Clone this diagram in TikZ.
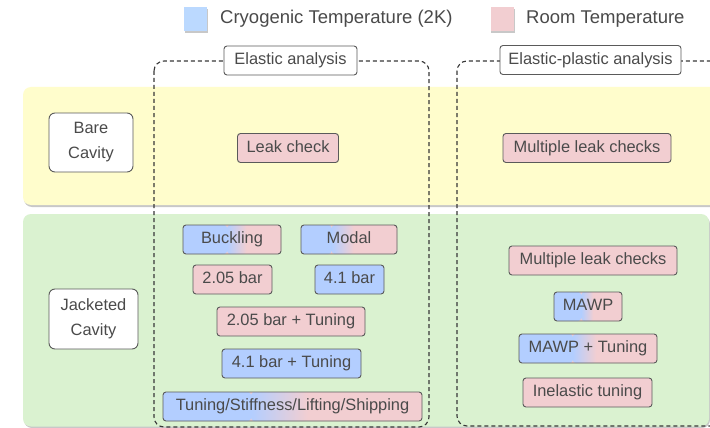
\documentclass[tikz,border=0pt]{standalone}
\usepackage{fontspec}
\setmainfont{Liberation Sans}
\usetikzlibrary{calc}
\definecolor{cryo}{HTML}{B3CEFF}
\definecolor{cryolg}{HTML}{BBD9FF}
\definecolor{room}{HTML}{F2CED1}
\definecolor{bandy}{HTML}{FFFDCC}
\definecolor{bandg}{HTML}{DAF2D0}
\definecolor{bordc}{HTML}{5A5A5A}
\definecolor{txt}{HTML}{4A4A4A}
\definecolor{dashc}{HTML}{383838}
\definecolor{shadc}{HTML}{C8C8C8}
\newcommand{\boxfont}{\fontsize{16.4}{25}\selectfont}
\newcommand{\legfont}{\fontsize{18.5}{22}\selectfont}
\tikzset{
  basebox/.style={draw=bordc, line width=0.9pt, rounded corners=3pt,
    inner sep=0pt, text=txt, font=\boxfont},
  box/.style={basebox, minimum height=29pt, text height=11.8pt, text depth=3.4pt},
  cryobox/.style={box, fill=cryo},
  roombox/.style={box, fill=room},
  gradbox/.style n args={2}{box, fill=room, path picture={
    \fill[cryo] (path picture bounding box.south west) rectangle
      ($(path picture bounding box.north west)!#1!(path picture bounding box.north east)$);
    \shade[left color=cryo, right color=room]
      ($(path picture bounding box.south west)!#1!(path picture bounding box.south east)$) rectangle
      ($(path picture bounding box.north west)!#2!(path picture bounding box.north east)$);
    \fill[room]
      ($(path picture bounding box.south west)!#2!(path picture bounding box.south east)$) rectangle
      (path picture bounding box.north east);
  }},
  labbox/.style={box, fill=white},
  catbox/.style={basebox, fill=white, rounded corners=6pt, align=center},
  dashbox/.style={draw=dashc, line width=1.1pt, dash pattern=on 4pt off 3pt, rounded corners=10pt},
  legsq/.style={inner sep=0pt, minimum width=23pt, minimum height=24pt},
  legtxt/.style={inner sep=0pt, anchor=west, text=txt, font=\legfont},
}
\begin{document}
\begin{tikzpicture}[x=1pt,y=-1pt]
\useasboundingbox (0,0) rectangle (710,428);
\clip (0,0) rectangle (710,428);
\fill[white] (0,0) rectangle (710,428);

% bands
\fill[shadc, rounded corners=8pt] (24,89) rectangle (722,207);
\fill[bandy, rounded corners=8pt] (23,87) rectangle (722,205);
\fill[shadc, rounded corners=8pt] (24,216) rectangle (710,428);
\fill[bandg, rounded corners=8pt] (23,214) rectangle (709,426.5);

% legend
\fill[shadc] (185,9) rectangle (208,33);
\node[legsq, fill=cryolg] (lgc) at (195.5,19) {};
\node[legtxt] (lgct) at (220,19) {Cryogenic Temperature (2K)};
\fill[shadc] (491,9) rectangle (515,33);
\node[legsq, fill=room] (lgr) at (502,19) {};
\node[legtxt] (lgrt) at (526,19) {Room Temperature};

% dashed analysis frames
\draw[dashbox] (154,61) rectangle (429,427);
\draw[dashbox] (457,61) rectangle (724,426);
\node[labbox, minimum width=133pt] (ela) at (290.5,60.5) {Elastic analysis};
\node[labbox, minimum width=181pt] (elp) at (590.5,60) {Elastic-plastic analysis};

% categories
\node[catbox, minimum width=84pt, minimum height=59pt] (bare) at (91,142.5) {Bare\\Cavity};
\node[catbox, minimum width=89pt, minimum height=60pt] (jack) at (93.5,319) {Jacketed\\Cavity};

% bare cavity row
\node[roombox, minimum width=101pt] (leak) at (288,148) {Leak check};
\node[roombox, minimum width=168pt] (mlca) at (587,148) {Multiple leak checks};

% jacketed cavity, elastic
\node[gradbox={0.45}{0.65}, minimum width=98pt] (buck) at (232,239.5) {Buckling};
\node[gradbox={0.32}{0.55}, minimum width=96pt] (modal) at (349,239.5) {Modal};
\node[roombox, minimum width=79pt] (ba) at (232.5,279.5) {2.05 bar};
\node[cryobox, minimum width=69pt] (bb) at (349.5,279.5) {4.1 bar};
\node[roombox, minimum width=148pt] (bat) at (291,321.5) {2.05 bar + Tuning};
\node[cryobox, minimum width=139pt] (bbt) at (291.5,363.5) {4.1 bar + Tuning};
\node[gradbox={0.34}{0.56}, minimum width=259pt] (tsls) at (292.5,406.5) {Tuning/Stiffness/Lifting/Shipping};

% jacketed cavity, elastic-plastic
\node[roombox, minimum width=168pt] (mlcb) at (593,260.5) {Multiple leak checks};
\node[gradbox={0.40}{0.58}, minimum width=68pt] (mawp) at (588,306.5) {MAWP};
\node[gradbox={0.39}{0.56}, minimum width=138pt] (mawpt) at (588,348.5) {MAWP + Tuning};
\node[roombox, minimum width=129pt] (inel) at (587.5,392.5) {Inelastic tuning};
\end{tikzpicture}
\end{document}
